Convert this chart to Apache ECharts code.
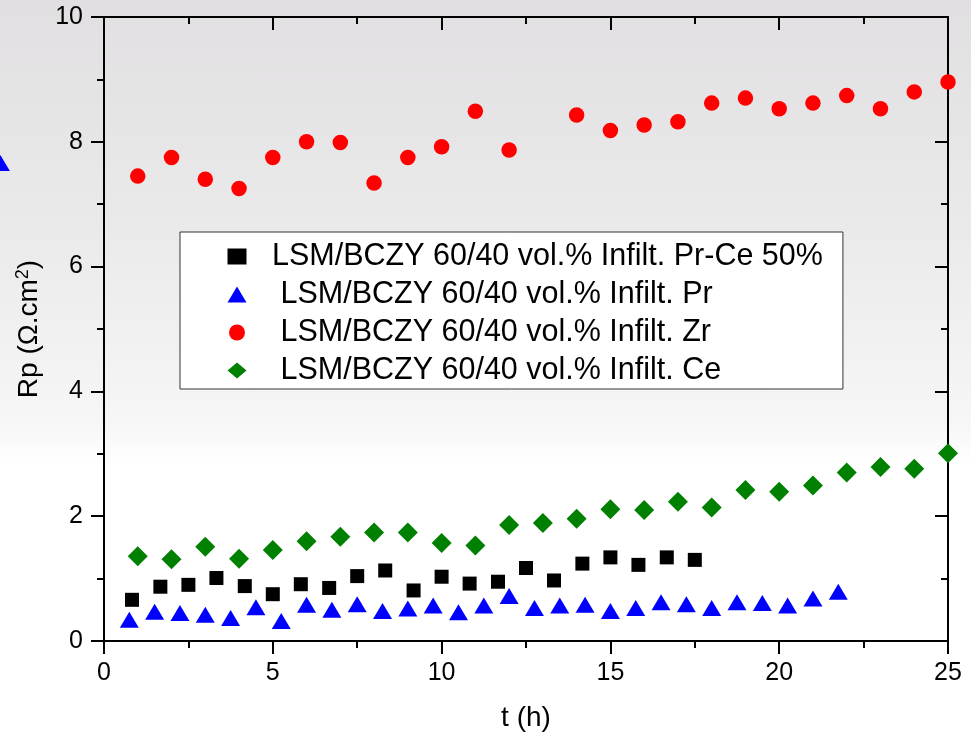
<!DOCTYPE html>
<html>
<head>
<meta charset="utf-8">
<script src="https://cdn.jsdelivr.net/npm/echarts@6/dist/echarts.min.js"></script>
<style>
html,body{margin:0;padding:0;}
#chart{width:971px;height:738px;background:linear-gradient(to bottom,#e1dfe1 0px,#ebeaeb 230px,#f6f6f6 420px,#ffffff 465px,#ffffff 738px);}
</style>
</head>
<body>
<div id="chart"></div>
<script>
// Series names
var namePrCe = 'LSM/BCZY 60/40 vol.% Infilt. Pr-Ce 50%';
var namePr = ' LSM/BCZY 60/40 vol.% Infilt. Pr';
var nameZr = ' LSM/BCZY 60/40 vol.% Infilt. Zr';
var nameCe = ' LSM/BCZY 60/40 vol.% Infilt. Ce';

// Pr-Ce 50% (black squares)
var tPrCe = [0.83,1.67,2.5,3.33,4.17,5.0,5.83,6.67,7.5,8.33,9.17,10.0,10.83,11.67,12.5,13.33,14.17,15.0,15.83,16.67,17.5];
var rpPrCe = [0.66,0.87,0.90,1.01,0.88,0.75,0.91,0.85,1.04,1.13,0.81,1.03,0.92,0.95,1.17,0.97,1.24,1.34,1.22,1.34,1.30];

// Pr (blue triangles)
var tPr = [-3.07,0.75,1.5,2.25,3.0,3.75,4.5,5.25,6.0,6.75,7.5,8.25,9.0,9.75,10.5,11.25,12.0,12.75,13.5,14.25,15.0,15.75,16.5,17.25,18.0,18.75,19.5,20.25,21.0,21.75];
var rpPr = [7.66,0.34,0.47,0.45,0.42,0.37,0.54,0.32,0.58,0.50,0.59,0.48,0.52,0.57,0.46,0.57,0.72,0.53,0.57,0.58,0.48,0.53,0.62,0.59,0.53,0.62,0.61,0.57,0.68,0.79];

// Zr (red circles)
var tZr = [1,2,3,4,5,6,7,8,9,10,11,12,14,15,16,17,18,19,20,21,22,23,24,25];
var rpZr = [7.45,7.75,7.40,7.25,7.75,8.00,7.99,7.34,7.75,7.92,8.49,7.87,8.43,8.18,8.27,8.32,8.62,8.70,8.53,8.62,8.74,8.53,8.80,8.96];

// Ce (green diamonds)
var tCe = [1,2,3,4,5,6,7,8,9,10,11,12,13,14,15,16,17,18,19,20,21,22,23,24,25];
var rpCe = [1.36,1.31,1.51,1.32,1.46,1.60,1.67,1.74,1.74,1.57,1.53,1.86,1.89,1.96,2.11,2.10,2.23,2.14,2.42,2.39,2.49,2.70,2.79,2.76,3.01];

// Axis tick values
var xTicks = [0,5,10,15,20,25];
var yTicks = [0,2,4,6,8,10];

function pairs(xs, ys){ return xs.map(function(x,i){ return [x, ys[i]]; }); }

var FONT = '"Liberation Sans", Arial, sans-serif';
function axisLine(){ return {show:true, onZero:false, lineStyle:{color:'#000', width:2, opacity:1}}; }
function tick(inside){ return {show:true, inside:inside, length:13, lineStyle:{color:'#000', width:2}}; }
function minor(){ return {show:true, splitNumber:2, length:7, lineStyle:{color:'#000', width:2}}; }

var chart = echarts.init(document.getElementById('chart'), null, {renderer:'canvas'});
chart.setOption({
  backgroundColor: 'transparent',
  animation: false,
  textStyle: {fontFamily: FONT},
  grid: {left:104, right:23, top:17, bottom:97, containLabel:false, outerBoundsMode:'none'},
  legend: {
    orient: 'vertical',
    left: 180, top: 232,
    width: 667,
    padding: [9, 20, 3, 47.5],
    itemWidth: 19, itemHeight: 16,
    itemGap: 7,
    symbolKeepAspect: true,
    backgroundColor: '#ffffff',
    borderColor: '#333',
    borderWidth: 1,
    borderRadius: 0,
    textStyle: {fontFamily: FONT, fontSize: 30.5, color:'#000', lineHeight: 30.5, padding:[0,0,0,20.5]},
    data: [namePrCe, namePr, nameZr, nameCe]
  },
  xAxis: [{
    type:'value', position:'bottom', min:0, max:25, interval:5,
    axisLine: axisLine(), axisTick: tick(false), minorTick: minor(),
    splitLine: {show:false},
    axisLabel: {color:'#000', fontSize:25, fontFamily:FONT, margin:20,
      formatter: function(v){ return xTicks.indexOf(v) >= 0 ? String(v) : ''; }},
    name: 't (h)', nameLocation:'middle', nameGap:63,
    nameTextStyle: {color:'#000', fontSize:28, fontFamily:FONT}
  },{
    type:'value', position:'top', min:0, max:25, interval:5,
    axisLine: axisLine(), axisTick: tick(true), minorTick: minor(),
    splitLine: {show:false},
    axisLabel: {show:false}
  }],
  yAxis: [{
    type:'value', position:'left', min:0, max:10, interval:2,
    axisLine: axisLine(), axisTick: tick(false), minorTick: minor(),
    splitLine: {show:false},
    axisLabel: {color:'#000', fontSize:25, fontFamily:FONT, margin:21,
      formatter: function(v){ return yTicks.indexOf(v) >= 0 ? String(v) : ''; }},
    name: '{n|Rp (Ω.cm}{s|2}{n|)}', nameLocation:'middle', nameGap:52, nameRotate:90,
    nameTextStyle: {color:'#000', fontSize:28, fontFamily:FONT,
      rich: {n:{fontSize:28, fontFamily:FONT, color:'#000', lineHeight:30},
             s:{fontSize:18, fontFamily:FONT, color:'#000', verticalAlign:'top', lineHeight:30, padding:[0,0,12,0]}}}
  },{
    type:'value', position:'right', min:0, max:10, interval:2,
    axisLine: axisLine(), axisTick: tick(true), minorTick: minor(),
    splitLine: {show:false},
    axisLabel: {show:false}
  }],
  series: [
    {name:namePrCe, type:'scatter', xAxisIndex:0, yAxisIndex:0, symbol:'rect', symbolSize:14, symbolKeepAspect:true,
     itemStyle:{color:'#000000', opacity:1}, data: pairs(tPrCe, rpPrCe), z:3},
    {name:namePr, type:'scatter', xAxisIndex:0, yAxisIndex:0, symbol:'triangle', symbolSize:[19,16], clip:false,
     itemStyle:{color:'#0000ff', opacity:1}, data: pairs(tPr, rpPr), z:3},
    {name:nameZr, type:'scatter', xAxisIndex:0, yAxisIndex:0, symbol:'circle', symbolSize:15.5, clip:false, symbolKeepAspect:true,
     itemStyle:{color:'#ff0000', opacity:1}, data: pairs(tZr, rpZr), z:3},
    {name:nameCe, type:'scatter', xAxisIndex:0, yAxisIndex:0, symbol:'diamond', symbolSize:20, clip:false, symbolKeepAspect:true,
     itemStyle:{color:'#008000', opacity:1}, data: pairs(tCe, rpCe), z:3}
  ]
});
</script>
</body>
</html>
